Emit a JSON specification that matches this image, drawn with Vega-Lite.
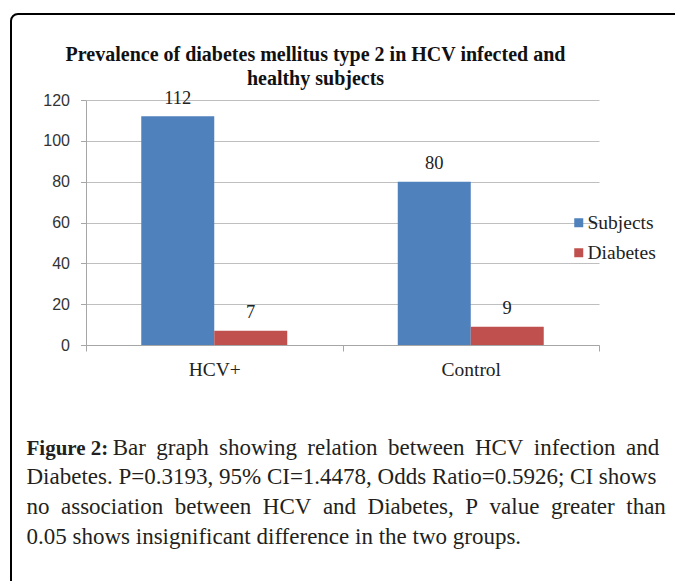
{
  "$schema": "https://vega.github.io/schema/vega-lite/v6.json",
  "autosize": {"type": "none"},
  "width": 690,
  "height": 600,
  "padding": {"left": 11, "top": 14, "right": -26, "bottom": -33},
  "background": "white",
  "title": {
    "text": ["Prevalence of diabetes mellitus type 2 in  HCV infected and", "healthy subjects"],
    "font": "Liberation Serif",
    "fontSize": 20,
    "fontWeight": "bold",
    "color": "#111111",
    "anchor": "middle",
    "frame": "group",
    "dx": -40.5,
    "baseline": "alphabetic",
    "lineHeight": 24,
    "offset": -91
  },
  "data": {
    "values": [
      {"group": "HCV+", "series": "Subjects", "value": 112},
      {"group": "HCV+", "series": "Diabetes", "value": 7},
      {"group": "Control", "series": "Subjects", "value": 80},
      {"group": "Control", "series": "Diabetes", "value": 9}
    ]
  },
  "encoding": {
    "x": {
      "field": "group",
      "type": "nominal",
      "sort": ["HCV+", "Control"],
      "scale": {"range": [75, 588], "paddingInner": 0, "paddingOuter": 0},
      "axis": {
        "title": [
          "\u200b\u00a0\u00a0\u00a0\u00a0\u00a0\u00a0\u00a0\u00a0\u00a0\u00a0\u00a0\u00a0\u00a0\u00a0\u00a0Bar\u2009 graph\u2009 showing\u2009 relation\u2009 between\u2009 HCV\u2009 infection\u2009 and",
          "Diabetes. P=0.3193, 95% CI=1.4478, Odds Ratio=0.5926; CI shows",
          "no\u00a0 association\u00a0 between\u00a0 HCV\u00a0 and\u00a0 Diabetes,\u00a0 P\u00a0 value\u00a0 greater\u00a0 than",
          "0.05 shows insignificant difference in the two groups."
        ],
        "offset": -269,
        "labelAngle": 0,
        "tickBand": "extent",
        "grid": false,
        "tickSize": 6,
        "labelPadding": 24.5,
        "labelBaseline": "alphabetic",
        "labelFont": "Liberation Serif",
        "labelFontSize": 19.5,
        "labelColor": "#222222",
        "domainColor": "#A6A6A6",
        "tickColor": "#A6A6A6",
        "titleX": 15,
        "titleY": 109,
        "titleAlign": "left",
        "titleBaseline": "alphabetic",
        "titleFont": "Liberation Serif",
        "titleFontSize": 23,
        "titleFontWeight": "normal",
        "titleColor": "#231f20",
        "titleLineHeight": 29.7
      }
    },
    "xOffset": {
      "field": "series",
      "type": "nominal",
      "sort": ["Subjects", "Diabetes"],
      "scale": {"paddingInner": 0, "paddingOuter": 0.757}
    },
    "y": {
      "field": "value",
      "type": "quantitative",
      "scale": {"domain": [0, 120], "range": [331, 86], "nice": false, "zero": true},
      "axis": {
        "title": "Figure 2:",
        "offset": -75,
        "values": [0, 20, 40, 60, 80, 100, 120],
        "grid": true,
        "gridColor": "#BFBFBF",
        "tickSize": 5.5,
        "labelPadding": 11,
        "labelFont": "Liberation Sans",
        "labelFontSize": 16,
        "labelColor": "#333333",
        "domainColor": "#A6A6A6",
        "tickColor": "#A6A6A6",
        "titleAngle": 0,
        "titleX": -60,
        "titleY": 440,
        "titleAlign": "left",
        "titleBaseline": "alphabetic",
        "titleFont": "Liberation Serif",
        "titleFontSize": 21,
        "titleFontWeight": "bold",
        "titleColor": "#231f20"
      }
    }
  },
  "layer": [
    {
      "mark": {"type": "bar"},
      "encoding": {
        "color": {
          "field": "series",
          "type": "nominal",
          "scale": {"domain": ["Subjects", "Diabetes"], "range": ["#4F81BD", "#C0504D"]},
          "legend": {
            "orient": "none",
            "legendX": 558,
            "legendY": 199,
            "title": null,
            "symbolType": "square",
            "symbolSize": 81,
            "symbolStrokeWidth": 0,
            "labelFont": "Liberation Serif",
            "labelFontSize": 19.5,
            "labelColor": "#222222",
            "labelOffset": -1,
            "rowPadding": 9,
            "padding": 0
          }
        }
      }
    },
    {
      "mark": {"type": "text", "baseline": "alphabetic", "dy": -12.5, "font": "Liberation Serif", "fontSize": 18.5, "color": "#222222"},
      "encoding": {
        "text": {"field": "value", "type": "quantitative"}
      }
    }
  ],
  "config": {
    "view": {"stroke": "#000000", "strokeWidth": 2, "cornerRadius": 7}
  }
}
